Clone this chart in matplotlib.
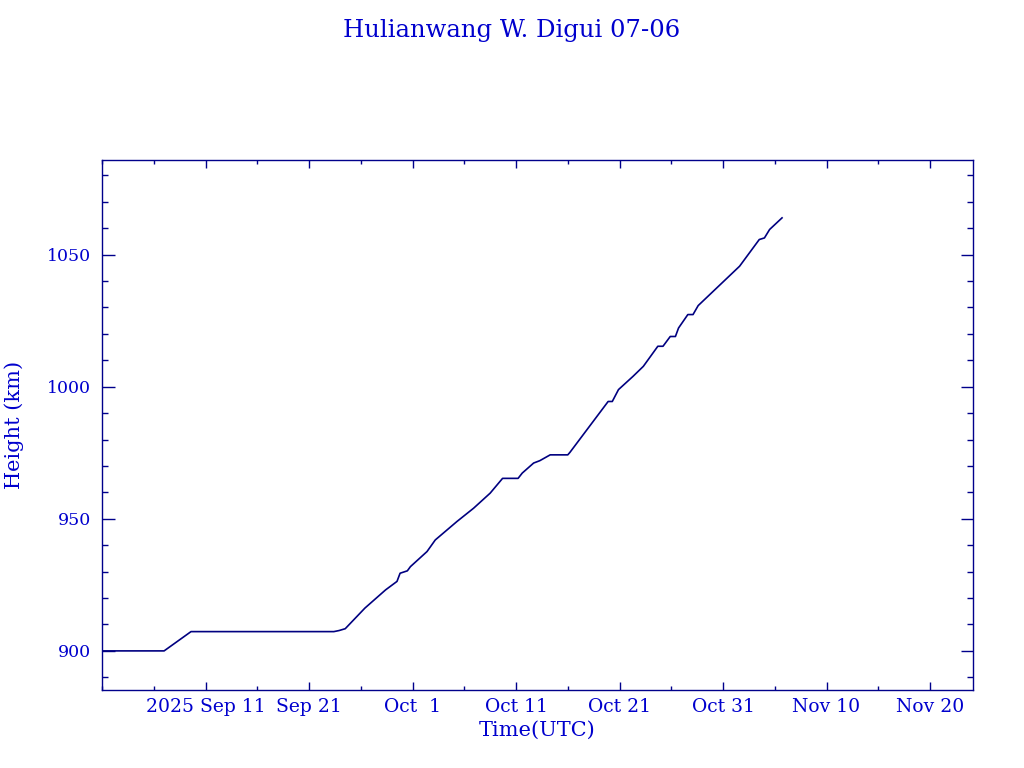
import matplotlib
matplotlib.use("Agg")
import matplotlib.pyplot as plt
from matplotlib.ticker import MultipleLocator, FixedLocator, FixedFormatter

##  data  (days since 2025 Sep 1 00:00 UTC, height in km)
days = [0.1, 6.0, 8.6, 22.4, 22.9, 23.5, 25.4, 27.4, 28.5, 28.8, 29.5, 29.8,
        31.4, 32.2, 34.3, 35.9, 37.5, 38.7, 40.2, 40.6, 41.7, 42.3, 43.3,
        45.0, 45.2, 48.9, 49.3, 49.9, 51.3, 52.3, 53.7, 54.2, 54.9, 55.4,
        55.7, 56.6, 57.1, 57.6, 61.6, 63.5, 64.0, 64.5, 65.7]
height = [900.0, 900.0, 907.3, 907.3, 907.7, 908.4, 916.2, 923.1, 926.3, 929.4,
          930.3, 931.9, 937.6, 942.0, 949.0, 954.0, 959.7, 965.3, 965.3, 967.3,
          971.1, 972.0, 974.2, 974.2, 975.1, 994.4, 994.4, 998.9, 1003.9,
          1007.7, 1015.3, 1015.3, 1019.0, 1019.0, 1022.2, 1027.3, 1027.3,
          1030.7, 1045.6, 1055.7, 1056.3, 1059.5, 1063.9]

tick_days = [10, 20, 30, 40, 50, 60, 70, 80]
tick_labels = ["2025 Sep 11", "Sep 21", "Oct  1", "Oct 11", "Oct 21",
               "Oct 31", "Nov 10", "Nov 20"]

frame_col = "#00008B"
text_col = "#0000CD"

plt.rcParams["font.family"] = ["DejaVu Serif", "DejaVu Sans"]

fig = plt.figure(figsize=(10.24, 7.68), dpi=100)
ax = fig.add_axes([102 / 1024, 1 - 690 / 768, 871 / 1024, 530 / 768])

ax.plot(days, height, "-", color="#000080", lw=1.2)

ax.set_xlim(0, 84.15)
ax.set_ylim(885.2, 1085.8)

ax.xaxis.set_major_locator(FixedLocator(tick_days))
ax.xaxis.set_major_formatter(FixedFormatter(tick_labels))
ax.xaxis.set_minor_locator(MultipleLocator(5))
ax.yaxis.set_major_locator(MultipleLocator(50))
ax.yaxis.set_minor_locator(MultipleLocator(10))

ax.tick_params(axis="both", which="both", direction="in", top=True, right=True,
               color=frame_col, labelcolor=text_col, labelsize=12.5, width=1)
ax.tick_params(axis="x", which="major", length=6, pad=6, labelsize=13.5)
ax.tick_params(axis="x", which="minor", length=3)
ax.tick_params(axis="y", which="major", length=9, pad=8)
ax.tick_params(axis="y", which="minor", length=4.5)

for s in ax.spines.values():
    s.set_color(frame_col)
    s.set_linewidth(1)

ax.set_xlabel("Time(UTC)", color=text_col, fontsize=15, labelpad=3)
ax.set_ylabel("Height (km)", color=text_col, fontsize=15, va="center")
ax.yaxis.set_label_coords(-0.101, 0.5)
fig.text(0.5, 1 - 30 / 768, "Hulianwang W. Digui 07-06", color=text_col,
         fontsize=17.5, ha="center", va="center")

fig.savefig("out.png", dpi=100)
